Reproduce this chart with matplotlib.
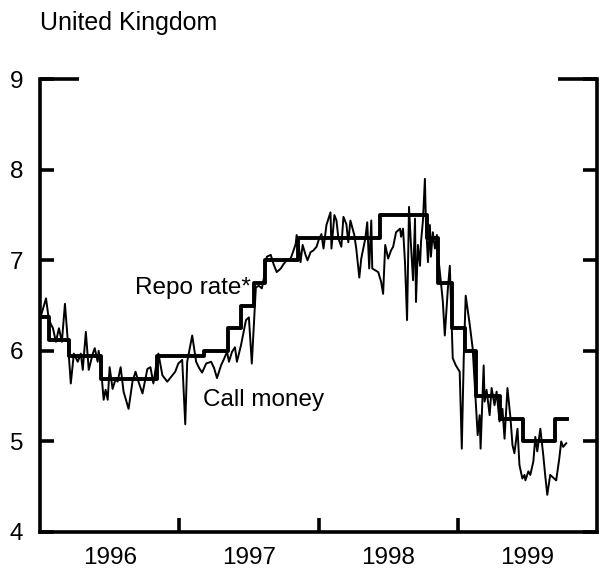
import matplotlib.pyplot as plt

# Repo rate: level changes (decimal years) and levels, in per cent
repo_t = [1996.0, 1996.064, 1996.207, 1996.436, 1996.843, 1997.179, 1997.35,
          1997.443, 1997.536, 1997.614, 1997.85, 1998.443, 1998.779, 1998.857,
          1998.957, 1999.05, 1999.129, 1999.30, 1999.471, 1999.70]
repo_rate = [6.375, 6.125, 5.94, 5.69, 5.94, 6.0, 6.25, 6.5, 6.75, 7.0, 7.25,
             7.5, 7.25, 6.75, 6.25, 6.0, 5.5, 5.25, 5.0, 5.25]
repo_end = 1999.786

# Call money rate
call_t = [
    1996.007, 1996.043, 1996.064, 1996.093, 1996.114, 1996.136, 1996.157, 1996.179,
    1996.200, 1996.221, 1996.243, 1996.271, 1996.293, 1996.307, 1996.329, 1996.350,
    1996.379, 1996.393, 1996.414, 1996.421, 1996.436, 1996.457, 1996.471, 1996.486,
    1996.500, 1996.521, 1996.543, 1996.557, 1996.579, 1996.600, 1996.636, 1996.664,
    1996.686, 1996.707, 1996.736, 1996.771, 1996.793, 1996.814, 1996.836, 1996.850,
    1996.879, 1996.914, 1996.950, 1996.971, 1996.993, 1997.021, 1997.043, 1997.057,
    1997.093, 1997.121, 1997.143, 1997.164, 1997.193, 1997.229, 1997.250, 1997.271,
    1997.300, 1997.321, 1997.343, 1997.357, 1997.379, 1997.400, 1997.414, 1997.443,
    1997.479, 1997.500, 1997.521, 1997.550, 1997.571, 1997.593, 1997.607, 1997.629,
    1997.657, 1997.679, 1997.700, 1997.729, 1997.750, 1997.771, 1997.800, 1997.821,
    1997.836, 1997.843, 1997.857, 1997.871, 1997.886, 1997.907, 1997.921, 1997.943,
    1997.964, 1997.986, 1998.000, 1998.021, 1998.036, 1998.057, 1998.086, 1998.093,
    1998.114, 1998.129, 1998.143, 1998.164, 1998.179, 1998.200, 1998.214, 1998.229,
    1998.257, 1998.271, 1998.293, 1998.307, 1998.336, 1998.350, 1998.364, 1998.379,
    1998.386, 1998.407, 1998.429, 1998.450, 1998.464, 1998.479, 1998.500, 1998.521,
    1998.536, 1998.557, 1998.586, 1998.593, 1998.607, 1998.621, 1998.636, 1998.650,
    1998.664, 1998.679, 1998.693, 1998.700, 1998.714, 1998.729, 1998.736, 1998.750,
    1998.764, 1998.771, 1998.786, 1998.800, 1998.807, 1998.821, 1998.836, 1998.850,
    1998.864, 1998.879, 1998.893, 1998.907, 1998.929, 1998.943, 1998.950, 1998.964,
    1998.986, 1999.014, 1999.029, 1999.043, 1999.057, 1999.086, 1999.107, 1999.129,
    1999.143, 1999.157, 1999.164, 1999.186, 1999.193, 1999.207, 1999.229, 1999.243,
    1999.264, 1999.279, 1999.300, 1999.321, 1999.336, 1999.357, 1999.379, 1999.393,
    1999.407, 1999.429, 1999.443, 1999.464, 1999.479, 1999.486, 1999.507, 1999.521,
    1999.543, 1999.557, 1999.571, 1999.593, 1999.614, 1999.629, 1999.643, 1999.664,
    1999.693, 1999.707, 1999.729, 1999.743, 1999.757, 1999.779]
call_rate = [
    6.39, 6.58, 6.34, 6.25, 6.10, 6.25, 6.10, 6.52,
    6.10, 5.64, 5.97, 5.88, 5.97, 5.79, 6.21, 5.79,
    5.97, 6.03, 5.88, 6.00, 5.84, 5.46, 5.57, 5.46,
    5.82, 5.58, 5.69, 5.66, 5.82, 5.55, 5.36, 5.66,
    5.77, 5.66, 5.53, 5.80, 5.82, 5.64, 5.86, 5.97,
    5.73, 5.66, 5.73, 5.77, 5.86, 5.90, 5.19, 5.88,
    6.17, 5.88, 5.81, 5.76, 5.86, 5.88, 5.81, 5.70,
    5.84, 5.91, 5.99, 5.88, 5.99, 6.04, 5.88, 6.06,
    6.34, 6.37, 5.86, 6.70, 6.72, 6.69, 6.80, 7.04,
    7.06, 6.95, 6.87, 6.91, 6.96, 7.00, 7.02, 7.11,
    7.18, 7.28, 7.18, 6.98, 7.17, 7.06, 7.00, 7.09,
    7.11, 7.15, 7.22, 7.29, 7.13, 7.39, 7.53, 7.13,
    7.50, 7.44, 7.24, 7.15, 7.48, 7.40, 7.20, 7.44,
    7.28, 7.13, 6.81, 7.02, 7.24, 7.42, 6.91, 7.44,
    6.91, 6.89, 6.87, 6.76, 6.63, 7.17, 7.02, 7.11,
    7.15, 7.31, 7.35, 7.26, 7.35, 6.98, 6.34, 7.59,
    7.17, 6.78, 7.46, 6.54, 7.17, 6.94, 7.20, 7.44,
    7.90, 7.44, 6.98, 7.39, 7.04, 7.31, 7.13, 7.28,
    6.98, 6.76, 6.54, 6.17, 6.69, 6.94, 6.61, 5.92,
    5.84, 5.77, 4.92, 5.92, 6.61, 6.29, 6.03, 5.44,
    5.07, 5.29, 4.92, 5.84, 5.44, 5.57, 5.29, 5.59,
    5.40, 5.55, 5.22, 5.36, 5.03, 5.59, 5.25, 4.96,
    4.87, 5.14, 4.74, 4.59, 4.63, 4.57, 4.67, 4.63,
    4.78, 5.05, 4.89, 5.14, 4.85, 4.61, 4.41, 4.63,
    4.59, 4.57, 4.81, 5.00, 4.94, 4.98]

year_ticks = [1997, 1998, 1999]
year_label_pos = [1996.5, 1997.5, 1998.5, 1999.5]
year_labels = ["1996", "1997", "1998", "1999"]
y_ticks = [4, 5, 6, 7, 8]
y_labels = ["4", "5", "6", "7", "8", "9"]

plt.rcParams["font.family"] = ["Liberation Sans", "DejaVu Sans"]

fig = plt.figure(figsize=(6, 5.7), dpi=100)
ax = fig.add_axes([0.0667, 0.0667, 0.9283, 0.7943])

ax.plot(call_t, call_rate, color="black", lw=1.4, zorder=2)
ax.step(repo_t + [repo_end], repo_rate + [repo_rate[-1]], where="post",
        color="black", lw=2.8, zorder=3)

ax.set_xlim(1996, 2000)
ax.set_ylim(4, 9)

for side in ["left", "bottom", "right"]:
    ax.spines[side].set_linewidth(2.6)
ax.spines["top"].set_visible(False)

# long marks at the top value on both sides
for x0, x1 in [(0, 0.07), (0.93, 1.0)]:
    ax.plot([x0, x1], [1, 1], transform=ax.transAxes, color="black",
            lw=2.6, clip_on=False, solid_capstyle="butt")

ax.set_xticks(year_ticks)
ax.set_xticklabels([])
ax.set_xticks(year_label_pos, minor=True)
ax.set_xticklabels(year_labels, minor=True)
ax.tick_params(axis="x", which="major", direction="in", length=10, width=2.6)
ax.tick_params(axis="x", which="minor", length=0, labelsize=17.5, pad=11)

ax.set_yticks(y_ticks + [9])
ax.set_yticklabels(y_labels)
ax.tick_params(axis="y", which="major", direction="in", length=10, width=2.6,
               right=True, labelsize=17.5, pad=12)

ax.text(1996.68, 6.69, "Repo rate*", fontsize=17.5, va="center", ha="left")
ax.text(1997.17, 5.46, "Call money", fontsize=17.5, va="center", ha="left")

fig.text(0.0667, 0.947, "United Kingdom", fontsize=18, va="baseline", ha="left")

plt.savefig("out.png", dpi=100)
plt.close()
